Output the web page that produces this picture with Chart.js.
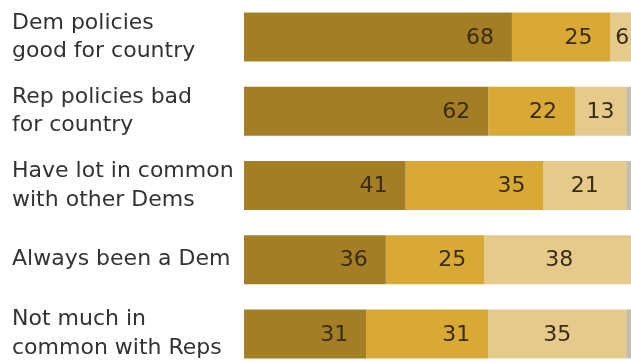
<!DOCTYPE html>
<html lang="en">
<head>
    <meta charset="UTF-8">
    <title>Democrats - reasons</title>
    <script src="https://cdn.jsdelivr.net/npm/chart.js"></script>
    <style>
        html, body { margin: 0; padding: 0; background: #fff; overflow: hidden; }
        .chart-box { position: relative; width: 638px; height: 371px; }
    </style>
</head>
<body>
    <div class="chart-box">
        <canvas id="reasonsChart"></canvas>
    </div>

    <script>
        // Kategoriler
        const categories = [
            ['Dem policies', 'good for country'],
            ['Rep policies bad', 'for country'],
            ['Have lot in common', 'with other Dems'],
            ['Always been a Dem'],
            ['Not much in', 'common with Reps']
        ];

        // Seriler (%)
        const majorReason = [68, 62, 41, 36, 31];
        const minorReason = [25, 22, 35, 25, 31];
        const notReason = [6, 13, 21, 38, 35];
        const noAnswer = [1, 3, 3, 1, 3];

        const colors = {
            major: '#a47e24',
            minor: '#d8a934',
            not: '#e6ca8b',
            none: '#c4bcab'
        };

        const fontFamily = '"DejaVu Sans", Verdana, sans-serif';

        // Etiketleri çubukların üstüne yaz
        const valueLabels = {
            id: 'valueLabels',
            afterDatasetsDraw(chart) {
                const ctx = chart.ctx;
                ctx.save();
                ctx.font = '22px ' + fontFamily;
                ctx.fillStyle = '#3a2c12';
                ctx.textBaseline = 'middle';
                [0, 1, 2].forEach(di => {
                    const meta = chart.getDatasetMeta(di);
                    meta.data.forEach((bar, i) => {
                        const v = chart.data.datasets[di].data[i];
                        if (di < 2) {
                            ctx.textAlign = 'right';
                            ctx.fillText(v, bar.x - 18, bar.y + 1);
                        } else {
                            ctx.textAlign = 'center';
                            ctx.fillText(v, (bar.x + bar.base) / 2, bar.y + 1);
                        }
                    });
                });
                ctx.restore();
            }
        };

        new Chart(document.getElementById('reasonsChart'), {
            type: 'bar',
            data: {
                labels: categories,
                datasets: [
                    { label: 'Major reason', data: majorReason, backgroundColor: colors.major },
                    { label: 'Minor reason', data: minorReason, backgroundColor: colors.minor },
                    { label: 'Not a reason', data: notReason, backgroundColor: colors.not },
                    { label: 'No answer', data: noAnswer, backgroundColor: colors.none }
                ]
            },
            options: {
                indexAxis: 'y',
                responsive: true,
                maintainAspectRatio: false,
                animation: false,
                layout: { padding: { left: 12, top: 0, right: 0, bottom: 0 } },
                datasets: {
                    bar: { barPercentage: 0.66, categoryPercentage: 1, borderWidth: 0 }
                },
                plugins: {
                    legend: { display: false },
                    tooltip: { enabled: false }
                },
                scales: {
                    x: {
                        stacked: true,
                        display: false,
                        min: 0,
                        max: 100
                    },
                    y: {
                        stacked: true,
                        grid: { display: false },
                        border: { display: false },
                        afterFit(scale) {
                            scale.width = 232;
                            scale.paddingTop = 0;
                            scale.paddingBottom = 0;
                        },
                        ticks: {
                            crossAlign: 'far',
                            padding: 0,
                            color: '#333',
                            font: { family: fontFamily, size: 22, lineHeight: 1.3 }
                        }
                    }
                }
            },
            plugins: [valueLabels]
        });
    </script>
</body>
</html>
